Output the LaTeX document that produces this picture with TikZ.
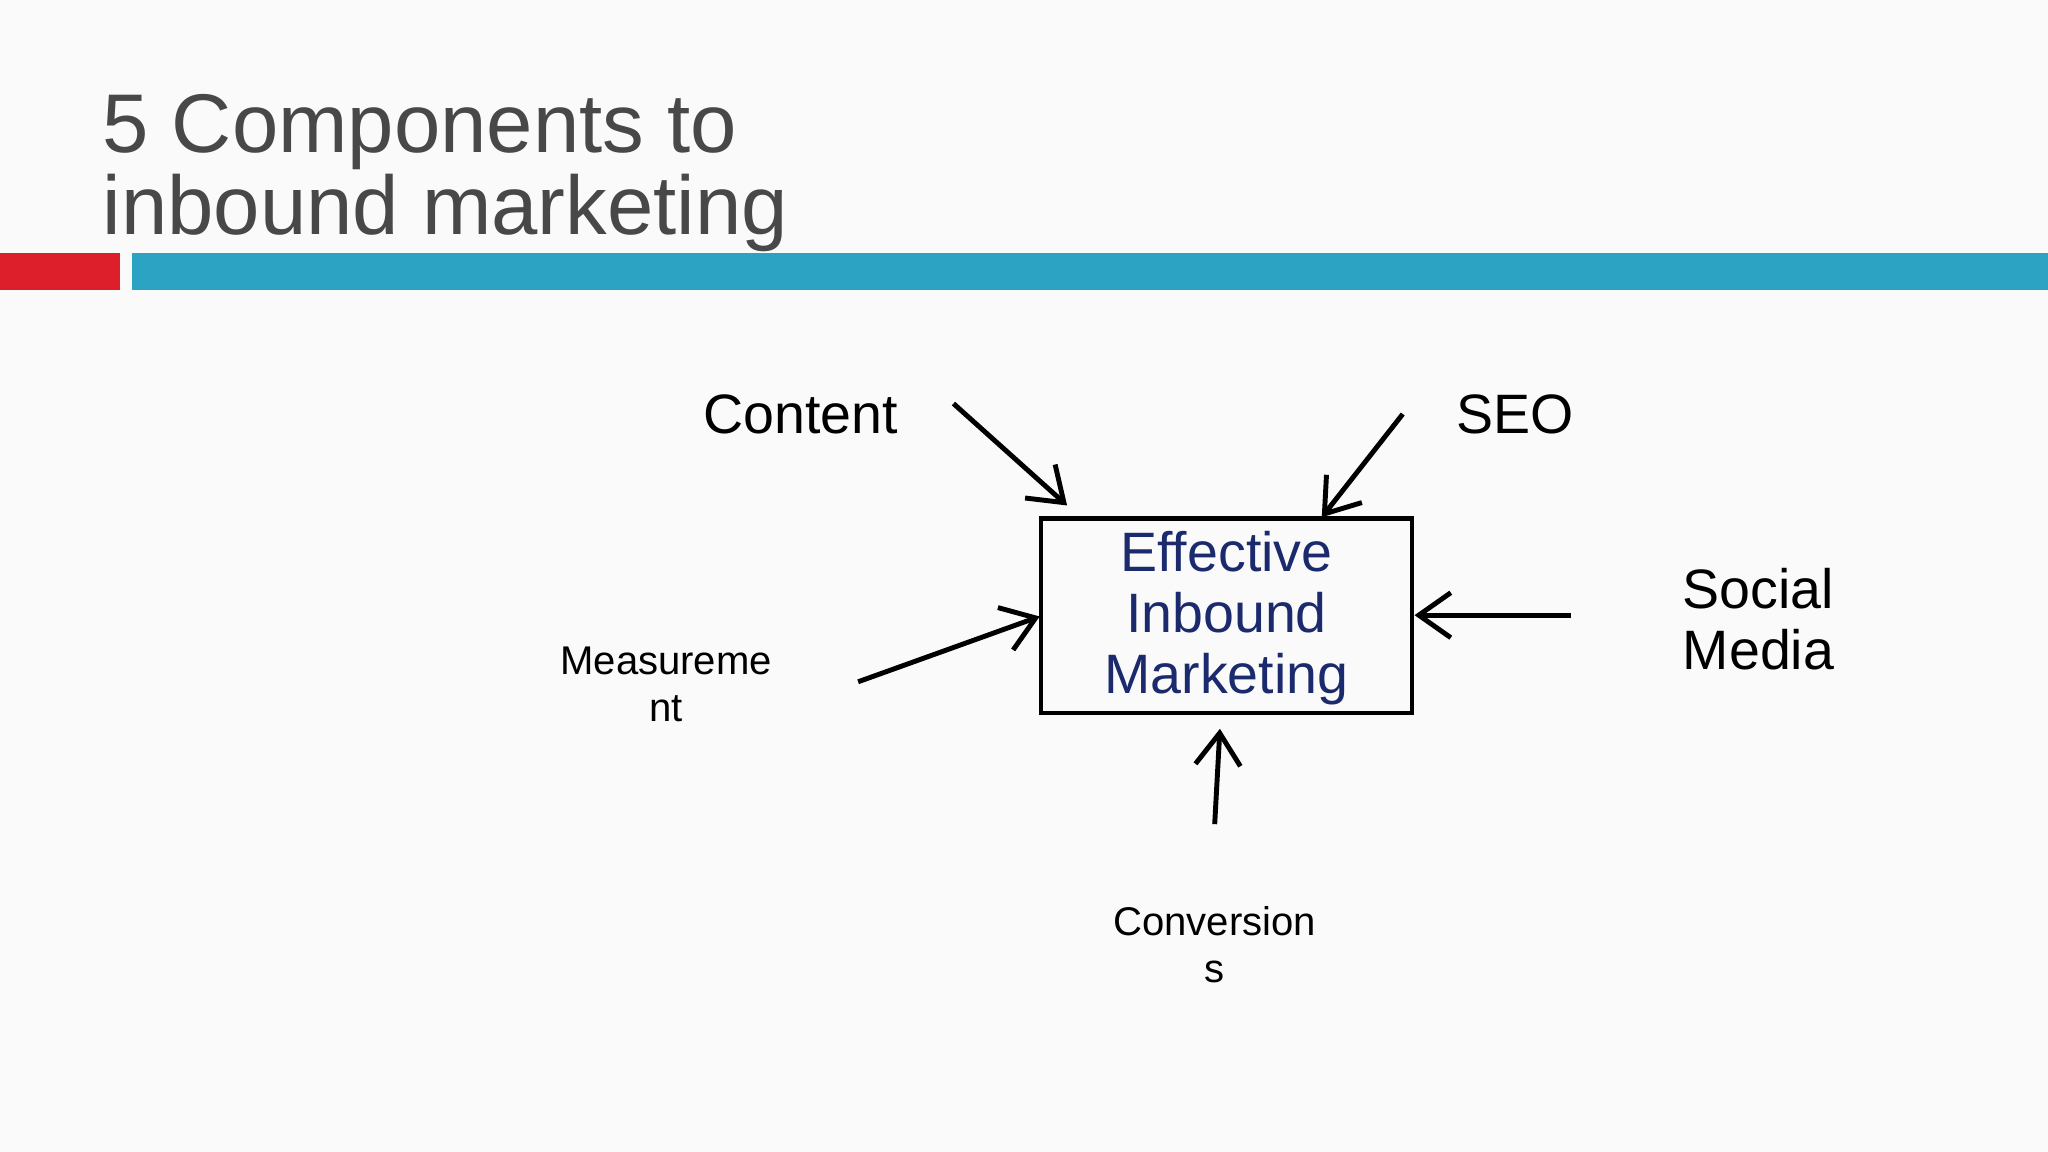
\documentclass[tikz,border=0pt]{standalone}
\usepackage{fontspec}
\setmainfont{Liberation Sans}
\usetikzlibrary{arrows.meta}
\definecolor{titlegray}{HTML}{484848}
\definecolor{barred}{HTML}{DC1F2B}
\definecolor{barblue}{HTML}{2DA3C4}
\definecolor{navy}{HTML}{1A2A6C}
\begin{document}
\begin{tikzpicture}[x=0.01306cm,y=-0.01306cm,
  conn/.style={line width=1.4pt,-{Straight Barb[length=3.2mm,width=4.5mm,line width=1.4pt]}},
  big/.style={font=\fontsize{15.8}{17.4}\selectfont,align=center},
  small/.style={font=\fontsize{11.4}{13.4}\selectfont,align=center}]
\fill[white!98!black] (0,0) rectangle (1568,882);
\useasboundingbox (0,0) rectangle (1568,882);
\node[anchor=north west,inner sep=0,text=titlegray,align=left,font=\fontsize{23.7}{17.4}\selectfont] (title) at (78,72) {5 Components to\\inbound marketing};
\fill[barred] (0,194) rectangle (92,222);
\fill[barblue] (101,194) rectangle (1568,222);
\node[draw,line width=1.2pt,minimum width=284*0.01306cm,minimum height=149*0.01306cm,inner sep=0] (box) at (939,471.5) {};
\node[big,text=navy] (lbl) at (939,473) {Effective\\Inbound\\Marketing};
\node[big] (content) at (613,317) {Content};
\node[big] (seo) at (1160,317) {SEO};
\node[big,align=left,anchor=west] (social) at (1279,474) {Social\\Media};
\node[small] (meas) at (510,524) {Measureme\\nt};
\node[small] (conv) at (930,723) {Conversion\\s};
\coordinate (c1) at (730,309); \coordinate (c2) at (817,387);
\coordinate (s1) at (1074,317); \coordinate (s2) at (1012,396);
\coordinate (m1) at (1203,471); \coordinate (m2) at (1083,471);
\coordinate (e1) at (657,522); \coordinate (e2) at (796,472);
\coordinate (v1) at (930,631); \coordinate (v2) at (934,558);
\draw[conn] (c1) -- (c2);
\draw[conn] (s1) -- (s2);
\draw[conn] (m1) -- (m2);
\draw[conn] (e1) -- (e2);
\draw[conn] (v1) -- (v2);
\end{tikzpicture}
\end{document}
